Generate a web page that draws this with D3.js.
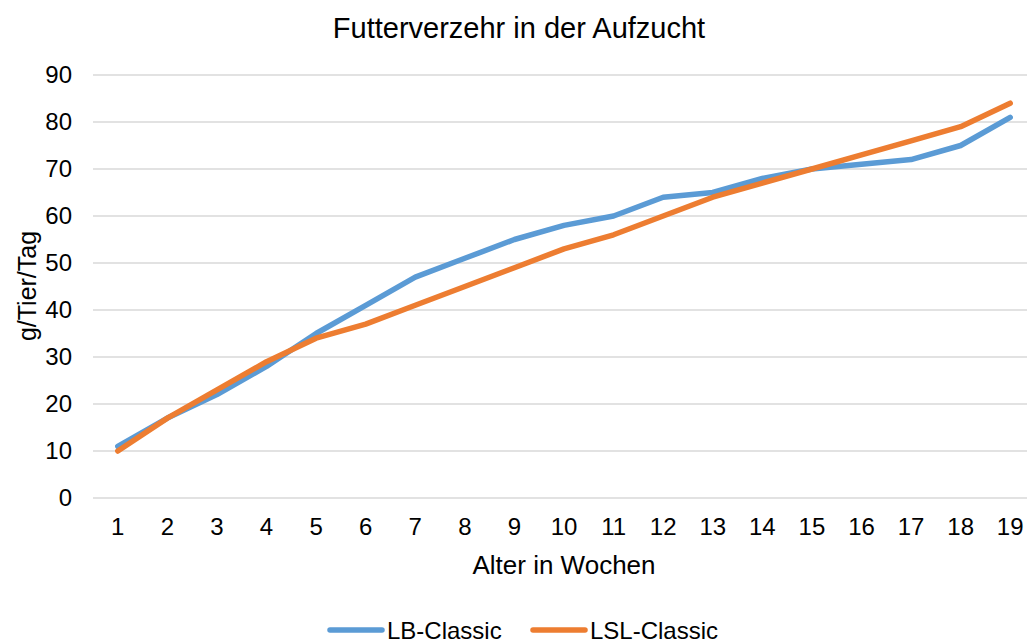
<!DOCTYPE html>
<html>
<head>
<meta charset="utf-8">
<script src="https://cdn.jsdelivr.net/npm/d3@7"></script>
<style>
  body { margin: 0; background: #fff; }
  text { font-family: "Liberation Sans", Arial, sans-serif; fill: #000; }
</style>
</head>
<body>
<div id="chart"></div>
<script>
const weeks = d3.range(1, 20).map(String);
const lbClassic = [11, 17, 22, 28, 35, 41, 47, 51, 55, 58, 60, 64, 65, 68, 70, 71, 72, 75, 81];
const lslClassic = [10, 17, 23, 29, 34, 37, 41, 45, 49, 53, 56, 60, 64, 67, 70, 73, 76, 79, 84];
const yTicks = [0, 10, 20, 30, 40, 50, 60, 70, 80, 90];
const series = [
    { name: 'LB-Classic', values: lbClassic, color: '#5B9BD5' },
    { name: 'LSL-Classic', values: lslClassic, color: '#ED7D31' },
];

const width = 1027, height = 642;
const margin = { top: 75, right: -8, bottom: 144, left: 93 };
const innerW = width - margin.left - margin.right;
const innerH = height - margin.top - margin.bottom;

const svg = d3.select('#chart')
    .append('svg')
    .attr('width', width)
    .attr('height', height);

const g = svg.append('g').attr('transform', `translate(${margin.left},${margin.top})`);

const x = d3.scaleBand().domain(weeks).range([0, innerW]);
const y = d3.scaleLinear().domain([0, 90]).range([innerH, 0]);

// gridlines
g.selectAll('.grid')
    .data(yTicks)
    .enter()
    .append('line')
    .attr('x1', 0)
    .attr('x2', innerW)
    .attr('y1', d => y(d))
    .attr('y2', d => y(d))
    .attr('stroke', '#d9d9d9')
    .attr('stroke-width', 1.5);

const yAxis = g.append('g').call(d3.axisLeft(y).tickValues(yTicks).tickSize(0).tickPadding(21));
yAxis.select('.domain').remove();
yAxis.selectAll('text').style('font-size', '24px').attr('fill', '#000');

const xAxis = g.append('g')
    .attr('transform', `translate(0,${innerH})`)
    .call(d3.axisBottom(x).tickSize(0).tickPadding(20));
xAxis.select('.domain').remove();
xAxis.selectAll('text').style('font-size', '24px').attr('fill', '#000');

const line = d3.line()
    .x((d, i) => x(weeks[i]) + x.bandwidth() / 2)
    .y(d => y(d));

g.selectAll('.series')
    .data(series)
    .enter()
    .append('path')
    .attr('d', d => line(d.values))
    .attr('fill', 'none')
    .attr('stroke', d => d.color)
    .attr('stroke-width', 5.5)
    .attr('stroke-linecap', 'round')
    .attr('stroke-linejoin', 'round');

svg.append('text')
    .attr('x', 519)
    .attr('y', 38)
    .attr('text-anchor', 'middle')
    .style('font-size', '29px')
    .text('Futterverzehr in der Aufzucht');

svg.append('text')
    .attr('x', 564)
    .attr('y', 574)
    .attr('text-anchor', 'middle')
    .style('font-size', '26px')
    .text('Alter in Wochen');

svg.append('text')
    .attr('transform', 'translate(36,286) rotate(-90)')
    .attr('text-anchor', 'middle')
    .style('font-size', '25px')
    .text('g/Tier/Tag');

// legend sits at the very bottom edge, as in the reference
const legend = svg.append('g').attr('transform', 'translate(330,630)');
const legendX = [0, 203];
series.forEach((s, i) => {
    const item = legend.append('g').attr('transform', `translate(${legendX[i]},0)`);
    item.append('line')
        .attr('x1', 0).attr('x2', 52)
        .attr('stroke', s.color)
        .attr('stroke-width', 5.5)
        .attr('stroke-linecap', 'round');
    item.append('text')
        .attr('x', 57)
        .attr('y', 8.5)
        .style('font-size', '24px')
        .text(s.name);
});
</script>
</body>
</html>
